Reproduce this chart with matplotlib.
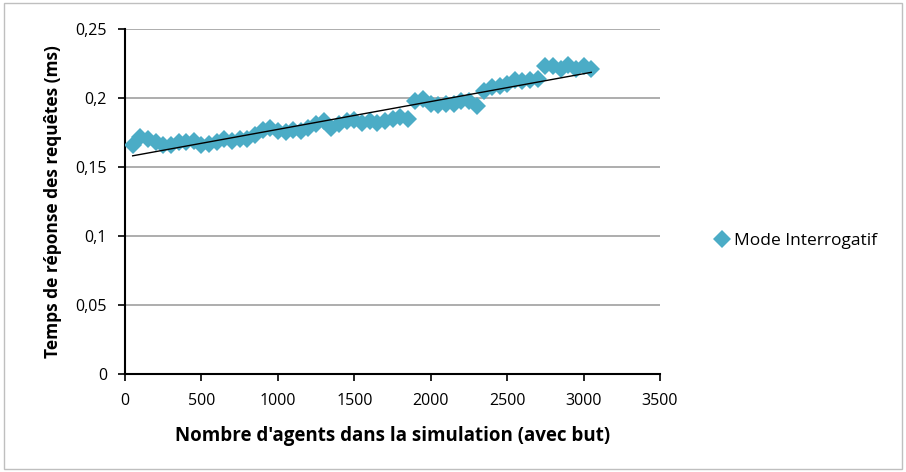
import numpy as np
import matplotlib
matplotlib.use("Agg")
import matplotlib.pyplot as plt
from matplotlib.patches import Rectangle
from matplotlib.ticker import FuncFormatter

agents = [50, 100, 150, 200, 250, 300, 350, 400, 450, 500,
          550, 600, 650, 700, 750, 800, 850, 900, 950, 1000,
          1050, 1100, 1150, 1200, 1250, 1300, 1350, 1400, 1450, 1500,
          1550, 1600, 1650, 1700, 1750, 1800, 1850, 1900, 1950, 2000,
          2050, 2100, 2150, 2200, 2250, 2300, 2350, 2400, 2450, 2500,
          2550, 2600, 2650, 2700, 2750, 2800, 2850, 2900, 2950, 3000, 3050]
response_ms = [0.166, 0.172, 0.170, 0.168, 0.166, 0.166, 0.168, 0.168, 0.169, 0.166,
               0.167, 0.168, 0.170, 0.169, 0.170, 0.170, 0.173, 0.177, 0.178, 0.176,
               0.175, 0.177, 0.176, 0.178, 0.181, 0.183, 0.178, 0.181, 0.183, 0.184,
               0.182, 0.183, 0.182, 0.183, 0.185, 0.186, 0.185, 0.198, 0.199, 0.196,
               0.195, 0.196, 0.196, 0.198, 0.198, 0.194, 0.205, 0.208, 0.209, 0.210,
               0.213, 0.212, 0.213, 0.214, 0.223, 0.223, 0.221, 0.224, 0.221, 0.223, 0.221]
series_label = "Mode Interrogatif"
x_label = "Nombre d'agents dans la simulation (avec but)"
y_label = "Temps de réponse des requêtes (ms)"

plt.rcParams['font.family'] = ['Open Sans', 'DejaVu Sans']

fig = plt.figure(figsize=(9.06, 4.72), dpi=100)
fig.patches.append(Rectangle((0.004, 0.006), 0.992, 0.988, transform=fig.transFigure,
                             fill=False, edgecolor='#bfbfbf', linewidth=1.0))
ax = fig.add_axes([0.138, 0.2076, 0.5905, 0.731])

x = np.array(agents, dtype=float)
y = np.array(response_ms)
ax.plot(x, y, linestyle='none', marker='D', markersize=9, color='#4BACC6',
        markeredgewidth=0, label=series_label, zorder=3)
coef = np.polyfit(x, y, 1)
xt = np.array([x.min(), x.max()])
ax.plot(xt, np.polyval(coef, xt), color='black', linewidth=1.0, zorder=4)

ax.set_xlim(0, 3500)
ax.set_ylim(0, 0.25)
ax.set_xticks(np.arange(0, 3501, 500))
ax.set_yticks(np.arange(0, 0.2501, 0.05))
fmt = lambda v, p: ('%g' % round(v, 3)).replace('.', ',')
ax.yaxis.set_major_formatter(FuncFormatter(fmt))
ax.grid(axis='y', color='#a0a0a0', linewidth=1.2)
ax.set_axisbelow(True)
for s in ['top', 'right']:
    ax.spines[s].set_visible(False)
for s in ['left', 'bottom']:
    ax.spines[s].set_linewidth(1.5)
    ax.spines[s].set_color('black')
ax.tick_params(axis='both', direction='out', length=5, width=1.2, labelsize=11.5)
ax.tick_params(axis='x', pad=9)
ax.tick_params(axis='y', pad=8)
ax.set_xlabel(x_label, fontsize=13.5, fontweight='bold', labelpad=12)
ax.set_ylabel(y_label, fontsize=12.5, fontweight='bold', labelpad=10)

fig.legend(loc='center left', bbox_to_anchor=(0.772, 0.49), frameon=False,
           handlelength=0.8, handletextpad=0.3, fontsize=12.5)

fig.savefig('out.png', dpi=100)
